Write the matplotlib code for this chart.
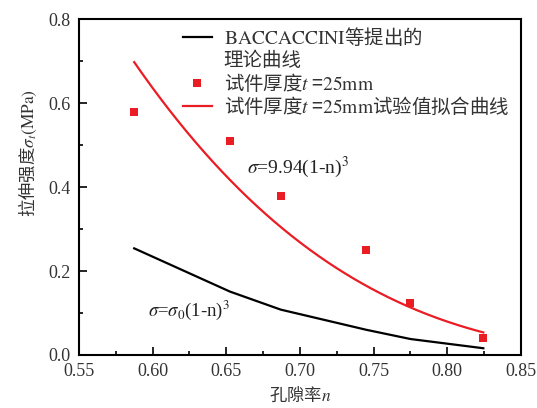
import numpy as np
import matplotlib
matplotlib.use("Agg")
import matplotlib.pyplot as plt
from matplotlib.lines import Line2D
from matplotlib.font_manager import FontProperties
from matplotlib.ticker import MultipleLocator, FormatStrFormatter

plt.rcParams['font.family'] = ['Liberation Serif', 'Noto Sans CJK SC']
plt.rcParams['mathtext.fontset'] = 'stix'

# porosity of the 25 mm specimens and measured tensile strength
porosity = [0.5875, 0.6525, 0.687, 0.745, 0.775, 0.8245]
strength = [0.579, 0.510, 0.379, 0.250, 0.123, 0.041]

# BACCACCINI theoretical curve, sigma0*(1-n)^3, read at the same porosities
theory = [0.254, 0.151, 0.108, 0.060, 0.038, 0.016]

# fitted curve sigma = 9.94(1-n)^3
fit_coef = 9.94

red = '#ea1c24'
txt = '#333333'


def cjk(size):
    # CJK text carries the Latin bits as \mathrm so they come out in STIX serif
    return FontProperties(family='Noto Sans CJK SC', size=size)


def main():
    fig = plt.figure(figsize=(5.37, 4.08), dpi=100)
    ax = fig.add_axes([0.147, 0.130, 0.823, 0.823])

    ax.plot(porosity, theory, color='black', lw=1.6)

    n_fit = np.linspace(porosity[0], porosity[-1], 200)
    ax.plot(n_fit, fit_coef * (1 - n_fit) ** 3, color=red, lw=1.6)

    ax.plot(porosity, strength, ls='none', marker='s', ms=5.5,
            color=red, markeredgewidth=0)

    ax.set_xlim(0.55, 0.85)
    ax.set_ylim(0, 0.8)
    ax.xaxis.set_major_locator(MultipleLocator(0.05))
    ax.xaxis.set_minor_locator(MultipleLocator(0.025))
    ax.yaxis.set_major_locator(MultipleLocator(0.2))
    ax.yaxis.set_minor_locator(MultipleLocator(0.1))
    ax.xaxis.set_major_formatter(FormatStrFormatter('%.2f'))
    ax.yaxis.set_major_formatter(FormatStrFormatter('%.1f'))
    ax.tick_params(which='both', direction='in', top=False, right=False,
                   labelsize=13, width=1.2, labelcolor=txt)
    ax.tick_params(which='major', length=6, pad=6)
    ax.tick_params(which='minor', length=3)
    for sp in ax.spines.values():
        sp.set_linewidth(1.5)

    ax.set_xlabel('孔隙率$n$', fontproperties=cjk(12.5), color=txt)
    ax.set_ylabel(r'拉伸强度$\sigma_t\mathrm{(MPa)}$', fontproperties=cjk(12.5),
                  color=txt)
    ax.yaxis.set_label_coords(-0.09, 0.60)

    ax.text(0.664, 0.448, r'$\sigma$=9.94(1-n)$^3$', fontsize=14,
            ha='left', va='center', color='#222222')
    ax.text(0.5968, 0.107, r'$\sigma$=$\sigma_0$(1-n)$^3$', fontsize=13.5,
            ha='left', va='center', color='#222222')

    handles = [
        Line2D([], [], color='black', lw=1.6),
        Line2D([], [], color='none'),
        Line2D([], [], ls='none', marker='s', ms=5.5, color=red,
               markeredgewidth=0),
        Line2D([], [], color=red, lw=1.6),
    ]
    labels = [
        r'$\mathrm{BACCACCINI}$等提出的',
        '理论曲线',
        r'试件厚度$t$ =$\mathrm{25mm}$',
        r'试件厚度$t$ =$\mathrm{25mm}$试验值拟合曲线',
    ]
    leg = ax.legend(handles, labels, loc='upper right', frameon=False,
                    prop=cjk(14), handlelength=1.5, handletextpad=0.6,
                    labelspacing=0.05, borderaxespad=0.2,
                    bbox_to_anchor=(1.0, 1.015))
    for t in leg.get_texts():
        t.set_color(txt)

    fig.savefig('out.png', dpi=100)


if __name__ == '__main__':
    main()
